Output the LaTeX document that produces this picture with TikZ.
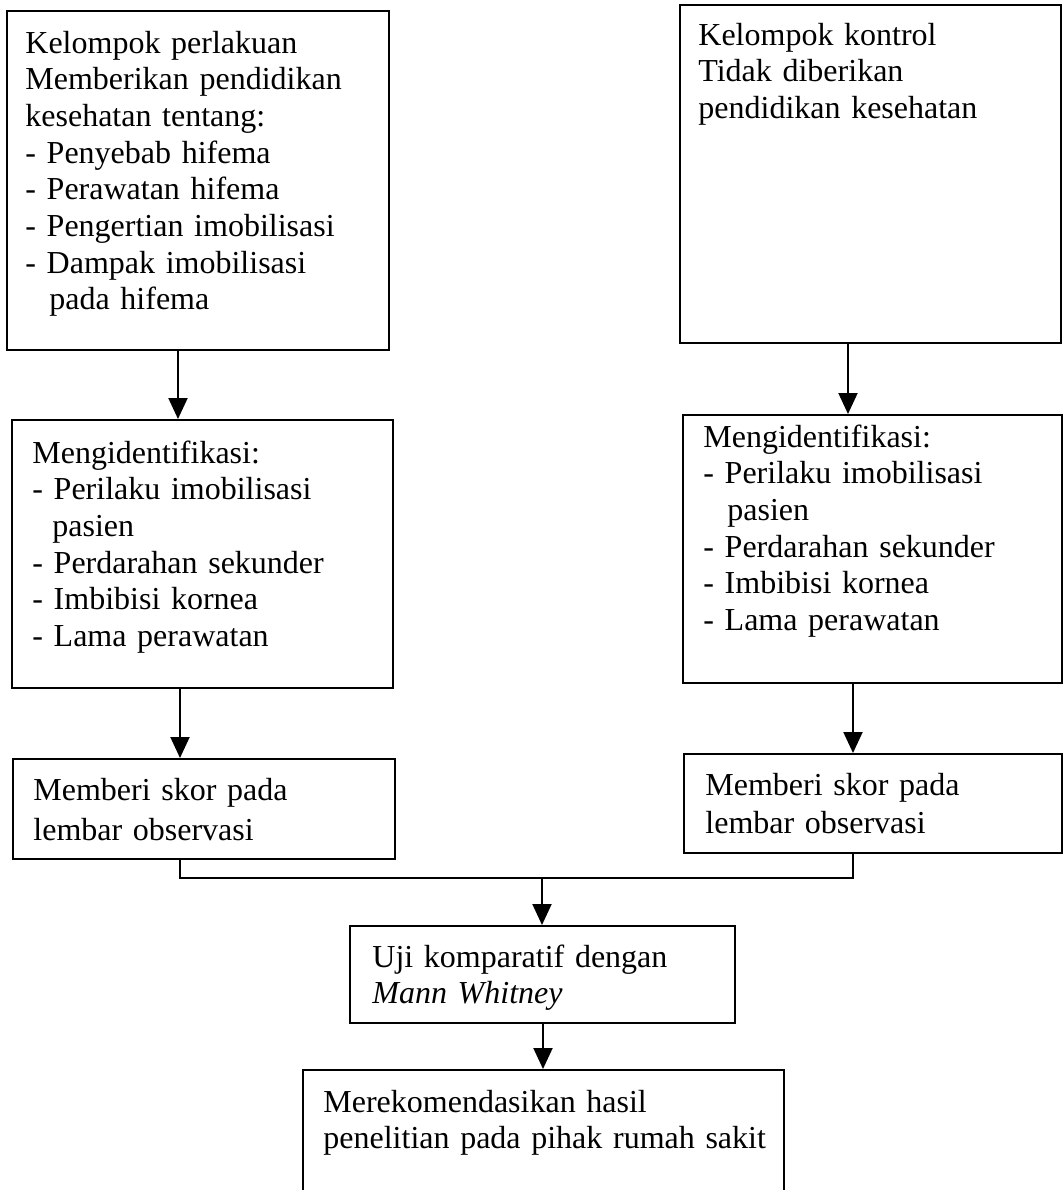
\documentclass[tikz,border=0pt]{standalone}
\usepackage{fontspec}
\setmainfont{Liberation Serif}
\usetikzlibrary{arrows.meta,fit}
\begin{document}
\begin{tikzpicture}[x=0.5pt,y=-0.5pt,
  box/.style={draw, line width=1pt, inner sep=0pt},
  txt/.style={anchor=base west, inner sep=0pt, align=left, text width=#1,
    font=\fontsize{16}{18.35}\selectfont},
  arr/.style={line width=1pt, -{Triangle[width=9.5pt,length=10.5pt]}},
  ln/.style={line width=1pt}]
\useasboundingbox (0,0) rectangle (1064,1190);
\clip (0,0) rectangle (1064,1190);
\fill[white] (0,0) rectangle (1064,1190);

% boxes
\node[box, fit={(7,11) (389,350)}] (b1) {};
\node[box, fit={(680,5) (1061,343)}] (b2) {};
\node[box, fit={(12,420) (393,688)}] (b3) {};
\node[box, fit={(683,415) (1062,683)}] (b4) {};
\node[box, fit={(13,759) (395,859)}] (b5) {};
\node[box, fit={(684,754) (1062,853)}] (b6) {};
\node[box, fit={(350,926) (735,1023)}] (b7) {};
\node[box, fit={(303,1070) (784,1200)}] (b8) {};

% texts
\node[txt=180pt] (t1) at (25,53) {Kelompok perlakuan\\Memberikan pendidikan\\kesehatan tentang:\\- Penyebab hifema\\- Perawatan hifema\\- Pengertian imobilisasi\\- Dampak imobilisasi\\\hspace*{12pt}pada hifema};
\node[txt=180pt] (t2) at (698,45) {Kelompok kontrol\\Tidak diberikan\\pendidikan kesehatan};
\node[txt=180pt] (t3) at (32,463) {Mengidentifikasi:\\- Perilaku imobilisasi\\\hspace*{10pt}pasien\\- Perdarahan sekunder\\- Imbibisi kornea\\- Lama perawatan};
\node[txt=180pt] (t4) at (703,447) {Mengidentifikasi:\\- Perilaku imobilisasi\\\hspace*{12pt}pasien\\- Perdarahan sekunder\\- Imbibisi kornea\\- Lama perawatan};
\node[txt=180pt, font=\fontsize{16}{20}\selectfont] (t5) at (33,800) {Memberi skor pada\\lembar observasi};
\node[txt=170pt, font=\fontsize{16}{19}\selectfont] (t6) at (705,795) {Memberi skor pada\\lembar observasi};
\node[txt=180pt] (t7) at (372,967) {Uji komparatif dengan\\\textit{Mann Whitney}};
\node[txt=230pt] (t8) at (323,1112) {Merekomendasikan hasil\\penelitian pada pihak rumah sakit};

% connector x positions
\coordinate (xa) at (178,0);
\coordinate (xb) at (848,0);
\coordinate (xc) at (180,0);
\coordinate (xd) at (853,0);
\coordinate (jn) at (542,878);
\coordinate (xe) at (543,0);

\draw[arr] (b1.south -| xa) -- (b3.north -| xa);
\draw[arr] (b2.south -| xb) -- (b4.north -| xb);
\draw[arr] (b3.south -| xc) -- (b5.north -| xc);
\draw[arr] (b4.south -| xd) -- (b6.north -| xd);
\draw[ln] (b5.south -| xc) -- (xc |- jn) -- (xd |- jn) -- (b6.south -| xd);
\draw[arr] (jn) -- (b7.north -| jn);
\draw[arr] (b7.south -| xe) -- (b8.north -| xe);
\end{tikzpicture}
\end{document}
